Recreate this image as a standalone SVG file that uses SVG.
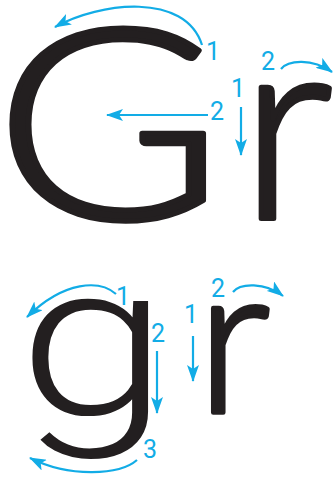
<svg xmlns="http://www.w3.org/2000/svg" width="333" height="479" viewBox="0 0 333 479">
<style>
.let{font-family:Lato,"Liberation Sans",sans-serif;font-weight:300;fill:#231f20;stroke:#231f20;stroke-linejoin:round}
.let2{font-family:Roboto,"Liberation Sans",sans-serif;font-weight:300;fill:#231f20}
.num{font-family:Roboto,"Liberation Sans",sans-serif;font-weight:400;font-size:25px;fill:#12ace6;text-anchor:middle}
.arr{fill:none;stroke:#12ace6;stroke-width:2.2;marker-end:url(#ah)}
</style>
<defs>
<marker id="ah" markerUnits="userSpaceOnUse" viewBox="0 0 17 12" markerWidth="17" markerHeight="12" refX="16" refY="6" orient="auto">
<path d="M0,0 L17,6 L0,12 L4,6 Z" fill="#12ace6"/>
</marker>
</defs>
<rect width="333" height="479" fill="#fff"/>
<g id="letters">
<text id="G-top" class="let" transform="translate(-6,219) scale(1.17,1)" x="0" y="0" font-size="267" stroke-width="5">G</text>
<text id="r-top" class="let" x="239.5" y="218.5" font-size="264" stroke-width="5">r</text>
<text id="g-bottom" class="let2" transform="translate(18,414) scale(1.27,1)" x="0" y="0" font-size="214">g</text>
<text id="r-bottom" class="let" x="196" y="412" font-size="210" stroke-width="4.5">r</text>
</g>
<g id="connectors">
<path class="arr" d="M202,45 C185,-8 100,2 55,27"/>
<path class="arr" d="M208,115 H107"/>
<path class="arr" d="M241,107 V155"/>
<path class="arr" d="M281,69 C288,60 312,58 332,72"/>
<path class="arr" d="M116,294 C100,280 65,280 27,317"/>
<path class="arr" d="M157,351 V413"/>
<path class="arr" d="M193,336 V381"/>
<path class="arr" d="M137,460 C120,475 70,478 30,458"/>
<path class="arr" d="M233,292 C240,283 265,282 283,296"/>
</g>
<g id="labels">
<text class="num" x="213" y="60">1</text>
<text class="num" x="217" y="120">2</text>
<text class="num" x="238" y="97">1</text>
<text class="num" x="268" y="70">2</text>
<text class="num" x="123" y="305">1</text>
<text class="num" x="158" y="342">2</text>
<text class="num" x="191" y="323">1</text>
<text class="num" x="150" y="458">3</text>
<text class="num" x="218" y="297">2</text>
</g>
</svg>
